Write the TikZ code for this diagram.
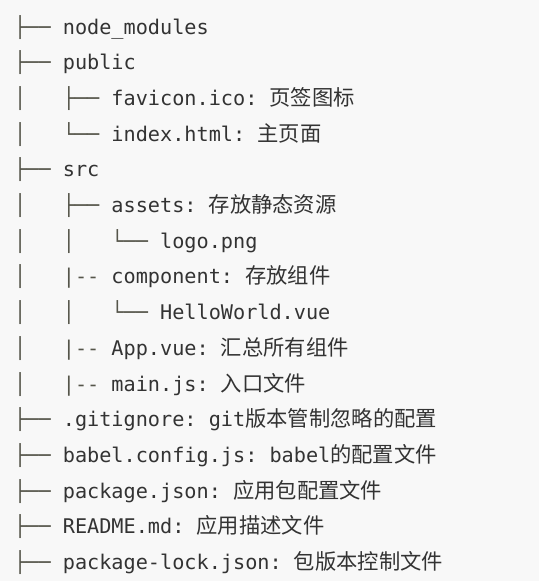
\documentclass[tikz,border=0pt]{standalone}
\usepackage{fontspec}
\setmonofont{DejaVu Sans Mono}
\newfontfamily\cjkfont{Noto Sans CJK SC}
\definecolor{bg}{HTML}{F8F8F8}
\definecolor{txt}{HTML}{333333}
\definecolor{treecol}{HTML}{55554A}
\newcommand\zhtxt[1]{{\fontsize{21.3}{24}\cjkfont #1}}
\newcommand\ind{\hphantom{x}}
\newcommand\tr[1]{\textcolor{treecol}{#1}}
\begin{document}
\begin{tikzpicture}[x=1pt,y=1pt,
  row/.style={anchor=base west, inner sep=0pt, text=txt,
    font=\fontsize{20.2}{24}\ttfamily\frenchspacing}]
\fill[bg] (0,0) rectangle (539,-581);
\useasboundingbox (0,0) rectangle (539,-581);
\def\xo{14}
\node[row] (r0)  at (\xo,-34.0)  {\tr{├──} node\_modules};
\node[row] (r1)  at (\xo,-69.7)  {\tr{├──} public};
\node[row] (r2)  at (\xo,-105.4) {\tr{│}\ind\ind\ind\tr{├──} favicon.ico: \zhtxt{页签图标}};
\node[row] (r3)  at (\xo,-141.1) {\tr{│}\ind\ind\ind\tr{└──} index.html: \zhtxt{主页面}};
\node[row] (r4)  at (\xo,-176.8) {\tr{├──} src};
\node[row] (r5)  at (\xo,-212.5) {\tr{│}\ind\ind\ind\tr{├──} assets: \zhtxt{存放静态资源}};
\node[row] (r6)  at (\xo,-248.2) {\tr{│}\ind\ind\ind\tr{│}\ind\ind\ind\tr{└──} logo.png};
\node[row] (r7)  at (\xo,-283.9) {\tr{│}\ind\ind\ind\tr{|--} component: \zhtxt{存放组件}};
\node[row] (r8)  at (\xo,-319.6) {\tr{│}\ind\ind\ind\tr{│}\ind\ind\ind\tr{└──} HelloWorld.vue};
\node[row] (r9)  at (\xo,-355.3) {\tr{│}\ind\ind\ind\tr{|--} App.vue: \zhtxt{汇总所有组件}};
\node[row] (r10) at (\xo,-391.0) {\tr{│}\ind\ind\ind\tr{|--} main.js: \zhtxt{入口文件}};
\node[row] (r11) at (\xo,-426.7) {\tr{├──} .gitignore: git\zhtxt{版本管制忽略的配置}};
\node[row] (r12) at (\xo,-462.4) {\tr{├──} babel.config.js: babel\zhtxt{的配置文件}};
\node[row] (r13) at (\xo,-498.1) {\tr{├──} package.json: \zhtxt{应用包配置文件}};
\node[row] (r14) at (\xo,-533.8) {\tr{├──} README.md: \zhtxt{应用描述文件}};
\node[row] (r15) at (\xo,-569.5) {\tr{├──} package-lock.json: \zhtxt{包版本控制文件}};
\end{tikzpicture}
\end{document}
